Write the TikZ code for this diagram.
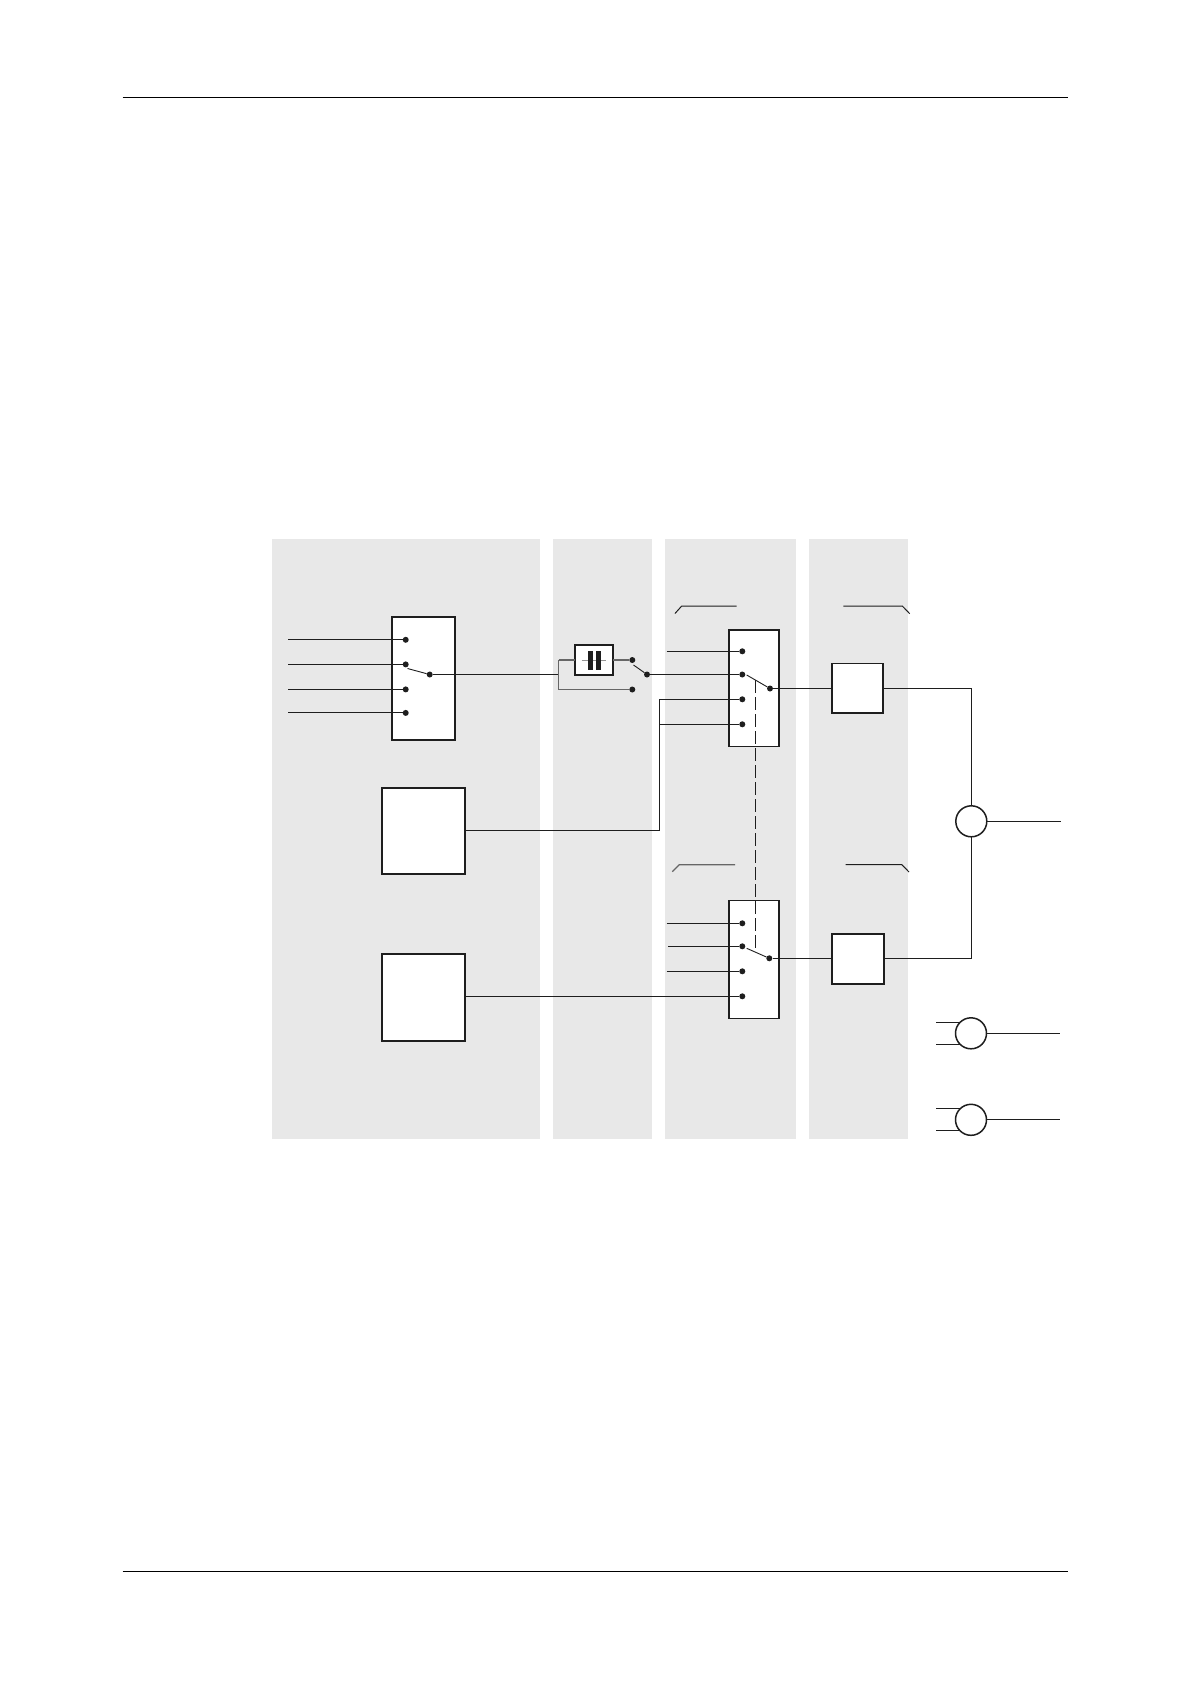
\documentclass[tikz,border=0pt]{standalone}
\definecolor{panelgrey}{HTML}{E8E8E8}
\definecolor{inkline}{HTML}{1E1E1E}
\definecolor{softline}{HTML}{666666}
\tikzset{
  x=1pt,y=-1pt,
  panel/.style={fill=panelgrey,draw=none,rectangle,inner sep=0pt,anchor=north west},
  unitbox/.style={draw=inkline,fill=white,rectangle,line width=1.8pt,inner sep=0pt,outer sep=0pt},
  swbox/.style={unitbox,minimum width=50pt,minimum height=#1},
  dotn/.style={circle,fill=inkline,draw=none,inner sep=0pt,minimum size=6pt},
  summer/.style={circle,draw=inkline,fill=white,line width=1.5pt,inner sep=0pt,outer sep=0pt,minimum size=31pt},
  wire/.style={draw=inkline,line width=1.1pt},
  softwire/.style={draw=softline,line width=1.1pt},
  arm/.style={draw=inkline,line width=0.9pt},
  hook/.style={draw=inkline,line width=1pt},
  softhook/.style={draw=softline,line width=1.3pt},
  linkdash/.style={draw=inkline,line width=0.9pt,dash pattern=on 13pt off 4pt},
  rulex/.style={draw=black,line width=1pt}
}
\begin{document}
\begin{tikzpicture}
\useasboundingbox (0,0) rectangle (1190,1684);
\fill[white] (0,0) rectangle (1190,1684);
% page rules
\coordinate (ruleTL) at (122.5,97.5); \coordinate (ruleTR) at (1068,97.5);
\coordinate (ruleBL) at (122.5,1571.5); \coordinate (ruleBR) at (1068,1571.5);
\draw[rulex] (ruleTL) -- (ruleTR);
\draw[rulex] (ruleBL) -- (ruleBR);
% panels
\node[panel,minimum width=268pt,minimum height=600pt] (p1) at (272,539) {};
\node[panel,minimum width=99pt,minimum height=600pt] (p2) at (553,539) {};
\node[panel,minimum width=131pt,minimum height=600pt] (p3) at (665,539) {};
\node[panel,minimum width=99pt,minimum height=600pt] (p4) at (809,539) {};
% boxes
\node[unitbox,minimum width=63pt,minimum height=123pt] (selA) at (423.5,678.5) {};
\node[unitbox,minimum width=82.5pt,minimum height=86.5pt] (srcA) at (423.5,831) {};
\node[unitbox,minimum width=82.5pt,minimum height=86.5pt] (srcB) at (423.5,997.5) {};
\node[unitbox,minimum width=38pt,minimum height=30.5pt] (capbox) at (594.2,660) {};
\node[swbox=116.5pt] (selB) at (754.2,688.3) {};
\node[swbox=118pt] (selC) at (754.2,959.5) {};
\node[unitbox,minimum width=51pt,minimum height=49.5pt] (ampA) at (857.5,688.3) {};
\node[unitbox,minimum width=52pt,minimum height=50pt] (ampB) at (858,958.8) {};
\node[summer] (sumA) at (971.3,821.3) {};
\node[summer] (sumB) at (971,1033.3) {};
\node[summer] (sumC) at (971,1119.8) {};
% capacitor symbol
\coordinate (capL) at (581.7,660); \coordinate (capR) at (606,660);
\draw[draw=softline!70,line width=1pt] (capL) -- (capR);
\node[rectangle,fill=inkline,inner sep=0pt,minimum width=5pt,minimum height=19pt] (plateA) at (590.2,660.8) {};
\node[rectangle,fill=inkline,inner sep=0pt,minimum width=5pt,minimum height=19pt] (plateB) at (598.2,660.8) {};
% contacts
\node[dotn] (a1) at (405.7,639.8) {};
\node[dotn] (a2) at (405.7,664.4) {};
\node[dotn] (a3) at (405.7,689.4) {};
\node[dotn] (a4) at (405.7,712.9) {};
\node[dotn] (ap) at (429.7,674.5) {};
\node[dotn] (c1) at (632.3,660) {};
\node[dotn] (c2) at (632.3,689.5) {};
\node[dotn] (cp) at (647,674.5) {};
\node[dotn] (b1) at (742.3,651.3) {};
\node[dotn] (b2) at (742.3,674.5) {};
\node[dotn] (b3) at (742.3,699.3) {};
\node[dotn] (b4) at (742.3,724.3) {};
\node[dotn] (bp) at (770,688.5) {};
\node[dotn] (e1) at (742.3,923.3) {};
\node[dotn] (e2) at (742.3,946.3) {};
\node[dotn] (e3) at (742.3,971.3) {};
\node[dotn] (e4) at (742.3,996.3) {};
\node[dotn] (ep) at (769.3,958.3) {};
% free ends
\coordinate (ia) at (288,0);
\coordinate (ib1) at (666.7,651.3);
\coordinate (ie1) at (666.7,923.3); \coordinate (ie2) at (668,946.3); \coordinate (ie3) at (666.7,971.3);
\coordinate (jn) at (558.5,674.5);
\coordinate (bus) at (659.3,830.5);
\coordinate (outA) at (1060.7,821.3);
\coordinate (outB) at (1060,1033.3);
\coordinate (outC) at (1060,1119.8);
\coordinate (fan) at (936,0);
% input wires
\foreach \t in {a1,a2,a3,a4}
  \draw[wire] (ia |- \t) -- (\t);
\foreach \s/\t in {ib1/b1,ie1/e1,ie2/e2,ie3/e3}
  \draw[wire] (\s) -- (\t);
% selector arms
\coordinate (armA) at (407.5,668.5);
\coordinate (armC) at (633.5,665);
\coordinate (armB) at (746.7,675);
\coordinate (armE) at (746.7,948.3);
\draw[arm] (armA) -- (ap);
\draw[arm] (armC) -- (cp);
\draw[arm] (armB) -- (bp);
\draw[arm] (armE) -- (ep);
% signal wires
\draw[wire] (ap) -- (jn);
\draw[softwire] (jn |- capbox) -- (capbox.west);
\draw[softwire] (capbox.east) -- (c1);
\draw[softwire] (jn |- capbox) -- (jn |- c2) -- (c2);
\draw[wire] (cp) -- (b2);
\draw[wire] (srcA.east |- bus) -- (bus) -- (bus |- b3) -- (b3);
\draw[wire] (bus |- b4) -- (b4);
\draw[wire] (srcB.east |- e4) -- (e4);
\draw[wire] (bp) -- (ampA.west |- bp);
\draw[wire] (ep) -- (ampB.west |- ep);
\draw[wire] (ampA.east |- bp) -- (sumA |- bp) -- (sumA.north);
\draw[wire] (ampB.east |- ep) -- (sumA |- ep) -- (sumA.south);
\draw[wire] (sumA.east) -- (outA);
\draw[wire] (sumB.east) -- (outB);
\draw[wire] (sumC.east) -- (outC);
\draw[wire] (fan |- sumB.135) -- (sumB.135);
\draw[wire] (fan |- sumB.225) -- (sumB.225);
\draw[wire] (fan |- sumC.135) -- (sumC.135);
\draw[wire] (fan |- sumC.225) -- (sumC.225);
% ganged link
\coordinate (linkT) at (755.9,680); \coordinate (linkB) at (755.9,950);
\draw[linkdash] (linkT) -- (linkB);
% hooks
\coordinate (h1a) at (675,613.5); \coordinate (h1b) at (681.7,606); \coordinate (h1c) at (736.7,606);
\coordinate (h2a) at (843.3,606); \coordinate (h2b) at (902.3,606); \coordinate (h2c) at (909.7,613.7);
\coordinate (h3a) at (672.3,871.7); \coordinate (h3b) at (679.3,864.7); \coordinate (h3c) at (735,864.7);
\coordinate (h4a) at (845.7,864.5); \coordinate (h4b) at (901.7,864.5); \coordinate (h4c) at (909,872);
\draw[hook] (h1a) -- (h1b) -- (h1c);
\draw[hook] (h2a) -- (h2b) -- (h2c);
\draw[softhook] (h3a) -- (h3b) -- (h3c);
\draw[hook] (h4a) -- (h4b) -- (h4c);
\end{tikzpicture}
\end{document}
